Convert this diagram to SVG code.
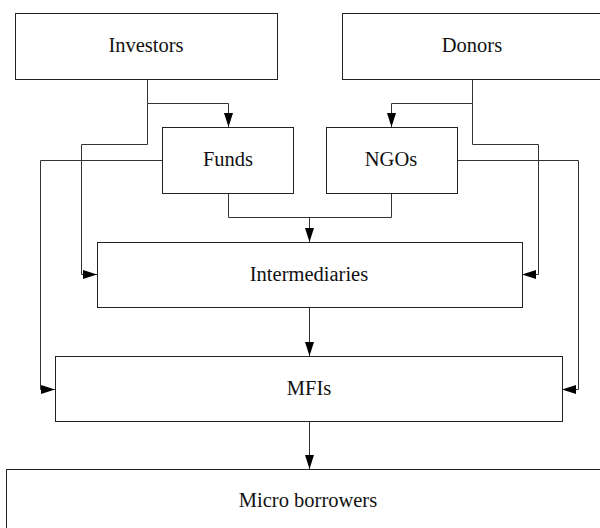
<svg xmlns="http://www.w3.org/2000/svg" width="600" height="528" viewBox="0 0 600 528">
<style>
.box{fill:#fff;stroke:#222;stroke-width:1}
.lbl{font-family:"Liberation Serif","Times New Roman",serif;font-size:20.5px;fill:#111;text-anchor:middle}
.c{fill:none;stroke:#333;stroke-width:1}
</style>
<defs>
<marker id="ah" viewBox="0 0 14 10" refX="14" refY="5" markerWidth="14" markerHeight="10" markerUnits="userSpaceOnUse" orient="auto">
<path d="M0,0.5 L14,5 L0,9.5 Z" fill="#000"/>
</marker>
</defs>
<rect width="600" height="528" fill="#fff"/>
<g id="connectors">
<path class="c" d="M147.5,79 V103.5 H228.5 V127" marker-end="url(#ah)"/>
<path class="c" d="M147.5,103.5 V144.5 H81.5 V274.5 H97" marker-end="url(#ah)"/>
<path class="c" d="M162,160.5 H40.5 V389.5 H55" marker-end="url(#ah)"/>
<path class="c" d="M472.5,79 V103.5 H391.5 V127" marker-end="url(#ah)"/>
<path class="c" d="M472.5,103.5 V144.5 H538.5 V274.5 H522" marker-end="url(#ah)"/>
<path class="c" d="M457,160.5 H578.5 V389.5 H562" marker-end="url(#ah)"/>
<path class="c" d="M228.5,193 V217.5 H391.5 V193"/>
<path class="c" d="M309.5,217.5 V242" marker-end="url(#ah)"/>
<path class="c" d="M309.5,307 V356" marker-end="url(#ah)"/>
<path class="c" d="M309.5,421 V469" marker-end="url(#ah)"/>
</g>
<g id="investors"><rect class="box" x="15.5" y="13.5" width="262" height="66"/><text class="lbl" x="146" y="52">Investors</text></g>
<g id="donors"><rect class="box" x="342.5" y="13.5" width="262" height="66"/><text class="lbl" x="472" y="52">Donors</text></g>
<g id="funds"><rect class="box" x="162.5" y="127.5" width="131" height="66"/><text class="lbl" x="228" y="166">Funds</text></g>
<g id="ngos"><rect class="box" x="326.5" y="127.5" width="131" height="66"/><text class="lbl" x="391" y="166">NGOs</text></g>
<g id="intermediaries"><rect class="box" x="97.5" y="242.5" width="425" height="65"/><text class="lbl" x="309" y="281">Intermediaries</text></g>
<g id="mfis"><rect class="box" x="55.5" y="356.5" width="507" height="65"/><text class="lbl" x="309" y="395">MFIs</text></g>
<g id="micro-borrowers"><rect class="box" x="6.5" y="469.5" width="604" height="70"/><text class="lbl" x="308" y="507">Micro borrowers</text></g>
</svg>
